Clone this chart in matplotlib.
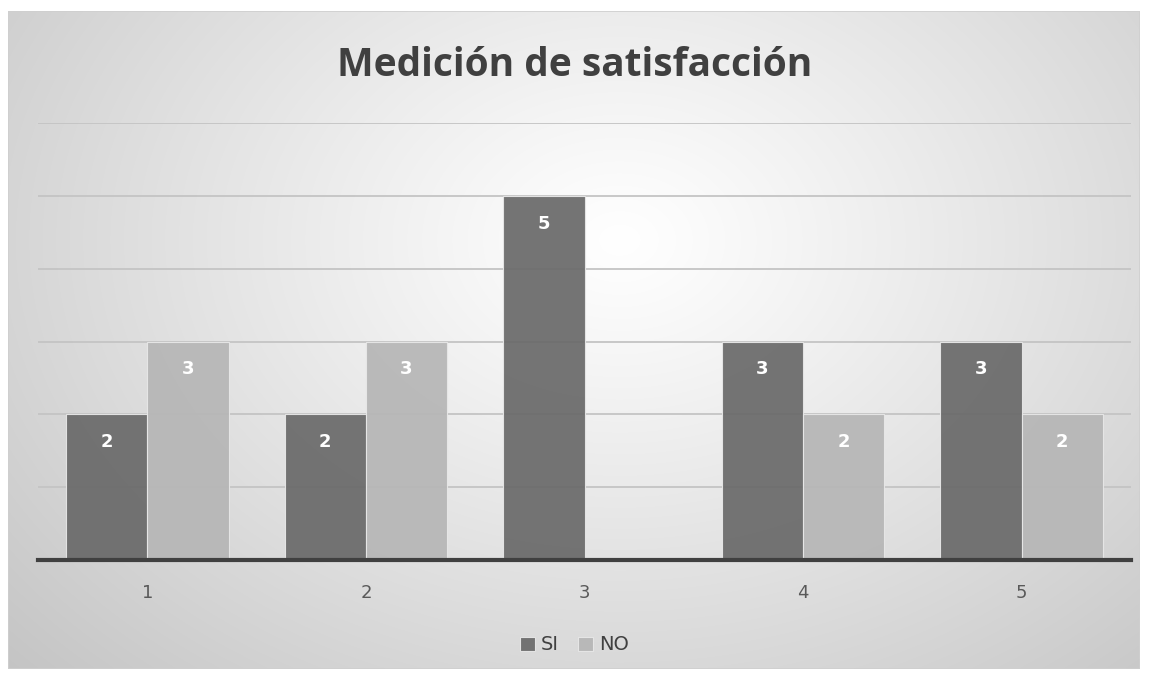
import numpy as np
import matplotlib
matplotlib.use("Agg")
import matplotlib.pyplot as plt
from matplotlib.patches import Rectangle

categories = ["1", "2", "3", "4", "5"]
si_values = [2, 2, 5, 3, 3]
no_values = [3, 3, 0, 2, 2]
title = "Medición de satisfacción"

W, H = 1149, 679
fig = plt.figure(figsize=(W / 100, H / 100), dpi=100)
fig.patch.set_facecolor("white")

# chart area background with radial gradient
x0, y0, x1, y1 = 8, 11, 1140, 669
bg = fig.add_axes([x0 / W, 1 - y1 / H, (x1 - x0) / W, (y1 - y0) / H])
bg.set_axis_off()
nx, ny = 600, 350
xx, yy = np.meshgrid(np.linspace(x0, x1, nx), np.linspace(y0, y1, ny))
cx, cy = 620, 240
r = np.sqrt(((xx - cx) / 1.0) ** 2 + ((yy - cy) / 0.75) ** 2)
r = r / r.max()
val = 1.0 - 0.23 * np.clip(r, 0, 1) ** 1.1
bg.imshow(np.dstack([val, val, val]), extent=[0, 1, 0, 1], aspect="auto", interpolation="bilinear")
bg.set_xlim(0, 1); bg.set_ylim(0, 1)
bg.add_patch(Rectangle((0, 0), 1, 1, transform=bg.transAxes, fill=False, edgecolor="#cfcfcf", lw=1.2))

# plot axes
px0, px1 = 38, 1131
py_base, py_top = 560, 123
ax = fig.add_axes([px0 / W, 1 - py_base / H, (px1 - px0) / W, (py_base - py_top) / H])
ax.set_facecolor("none")
ax.set_xlim(-0.5, 4.5)
ax.set_ylim(0, 6)
ax.set_yticks(range(1, 7))
ax.yaxis.grid(True, color="#c4c4c4", lw=1.3)
ax.set_axisbelow(True)
for s in ["top", "right", "left"]:
    ax.spines[s].set_visible(False)
ax.spines["bottom"].set_color("#404040")
ax.spines["bottom"].set_linewidth(3)
ax.tick_params(axis="y", left=False, labelleft=False)
ax.tick_params(axis="x", bottom=False, labelsize=13, labelcolor="#595959", pad=14)

x = np.arange(len(categories))
w = 0.372
si_color = "#6a6a6a"
no_color = "#b6b6b6"
b1 = ax.bar(x - w / 2, si_values, w, color=si_color, edgecolor="#e8e8e8", lw=0.8, alpha=0.93, label="SI", zorder=2)
b2 = ax.bar(x + w / 2, no_values, w, color=no_color, edgecolor="#e8e8e8", lw=0.8, alpha=0.93, label="NO", zorder=2)
ax.set_xticks(x)
ax.set_xticklabels(categories)

for bars, vals in ((b1, si_values), (b2, no_values)):
    for rect, v in zip(bars, vals):
        if v > 0:
            ax.annotate(str(v), (rect.get_x() + rect.get_width() / 2, v), xytext=(0, -28),
                        textcoords="offset pixels",
                        ha="center", va="center", color="white", fontsize=13, fontweight="bold")

fig.text(0.5, 1 - 66 / H, title, ha="center", va="center", fontsize=28, fontweight="bold", color="#404040",
         family=["Open Sans", "DejaVu Sans"])

leg = fig.legend(handles=[b1, b2], labels=["SI", "NO"], loc="center", bbox_to_anchor=(0.5, 1 - 645 / H),
                 ncol=2, frameon=False, fontsize=14, handlelength=0.75, handleheight=0.75,
                 handletextpad=0.3, columnspacing=1.0, labelcolor="#404040")

fig.savefig("out.png", dpi=100, facecolor="white")
